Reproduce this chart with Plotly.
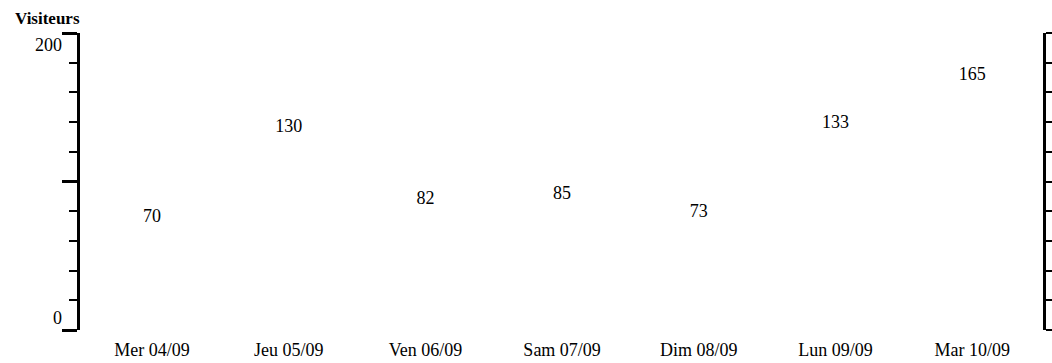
import plotly.graph_objects as go

days = ["Mer 04/09", "Jeu 05/09", "Ven 06/09", "Sam 07/09", "Dim 08/09", "Lun 09/09", "Mar 10/09"]
visitors = [70, 130, 82, 85, 73, 133, 165]
y_tick_labels = ["0", "200"]
y_title = "Visiteurs"

W, H = 1052, 363
FONT = "Liberation Serif"

fig = go.Figure()
fig.add_trace(go.Scatter(
    x=days, y=visitors, mode="text",
    text=[str(v) for v in visitors],
    textposition="top center",
    textfont=dict(family=FONT, size=18, color="black"),
    showlegend=False, hoverinfo="skip",
))
# invisible trace to activate right axis
fig.add_trace(go.Scatter(x=days, y=visitors, yaxis="y2", mode="none",
                         showlegend=False, hoverinfo="skip"))

fig.update_layout(
    width=W, height=H,
    margin=dict(l=0, r=0, t=0, b=0, autoexpand=False),
    paper_bgcolor="white", plot_bgcolor="white",
    font=dict(family=FONT, size=18, color="black"),
    xaxis=dict(
        type="category", categoryorder="array", categoryarray=days,
        range=[-0.527, 6.518],
        domain=[80 / W, 1043 / W],
        showline=False, showgrid=False, zeroline=False,
        ticks="", ticklabelstandoff=7,
        tickfont=dict(family=FONT, size=18, color="black"),
    ),
    yaxis=dict(
        range=[0, 200],
        domain=[(H - 330) / H, (H - 33) / H],
        showline=True, linecolor="black", linewidth=3,
        showgrid=False, zeroline=False,
        ticks="outside", tickvals=[0, 100, 200], ticktext=["", "", ""],
        ticklen=15, tickwidth=3, tickcolor="black",
        minor=dict(dtick=20, ticks="outside", ticklen=8, tickwidth=2, tickcolor="black", showgrid=False),
    ),
    yaxis2=dict(
        range=[0, 200], overlaying="y", side="right",
        showline=True, linecolor="black", linewidth=3,
        showgrid=False, zeroline=False,
        ticks="outside", dtick=20, ticklen=10, tickwidth=2, tickcolor="black",
        showticklabels=False,
    ),
)

fig.add_annotation(x=64 / W, xref="paper", xanchor="right", y=200, yref="y", yanchor="top",
                   text=y_tick_labels[1], showarrow=False,
                   font=dict(family=FONT, size=18, color="black"))
fig.add_annotation(x=64 / W, xref="paper", xanchor="right", y=0, yref="y", yanchor="bottom",
                   text=y_tick_labels[0], showarrow=False,
                   font=dict(family=FONT, size=18, color="black"))
fig.add_annotation(x=47 / W, xref="paper", xanchor="center", y=(H - 19) / H, yref="paper", yanchor="middle",
                   text="<b>" + y_title + "</b>", showarrow=False, font=dict(family=FONT, size=17, color="black"))

fig.write_html("out.html", config={"displayModeBar": False},
               post_script="document.body.style.margin='0';document.body.style.overflow='hidden';")
